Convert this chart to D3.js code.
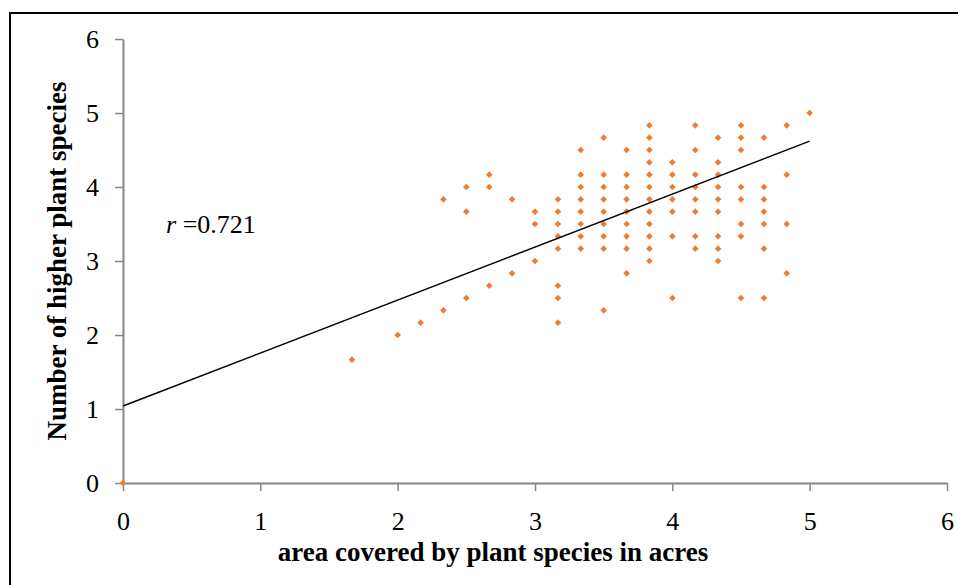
<!DOCTYPE html>
<html>
<head>
<meta charset="utf-8">
<script src="https://cdn.jsdelivr.net/npm/d3@7"></script>
<style>
  body { margin: 0; background: #fff; }
  svg text { font-family: "Liberation Serif", "Times New Roman", serif; fill: #000; }
</style>
</head>
<body>
<svg id="svg" width="958" height="585"></svg>
<script>
// area covered (acres) and number of higher plant species, one entry per point
const areaAcres = [
  0,
  1.667, 2.0, 2.167,
  2.333, 2.333,
  2.5, 2.5, 2.5,
  2.667, 2.667, 2.667,
  2.833, 2.833,
  3.0, 3.0, 3.0,
  3.167, 3.167, 3.167, 3.167, 3.167, 3.167, 3.167, 3.167,
  3.333, 3.333, 3.333, 3.333, 3.333, 3.333, 3.333, 3.333,
  3.5, 3.5, 3.5, 3.5, 3.5, 3.5, 3.5, 3.5, 3.5,
  3.667, 3.667, 3.667, 3.667, 3.667, 3.667, 3.667, 3.667, 3.667,
  3.833, 3.833, 3.833, 3.833, 3.833, 3.833, 3.833, 3.833, 3.833, 3.833, 3.833, 3.833,
  4.0, 4.0, 4.0, 4.0, 4.0, 4.0, 4.0,
  4.167, 4.167, 4.167, 4.167, 4.167, 4.167, 4.167, 4.167,
  4.333, 4.333, 4.333, 4.333, 4.333, 4.333, 4.333, 4.333, 4.333,
  4.5, 4.5, 4.5, 4.5, 4.5, 4.5, 4.5, 4.5,
  4.667, 4.667, 4.667, 4.667, 4.667, 4.667, 4.667,
  4.833, 4.833, 4.833, 4.833,
  5.0
];
const plantSpecies = [
  0,
  1.667, 2.0, 2.167,
  2.333, 3.833,
  2.5, 3.667, 4.0,
  2.667, 4.0, 4.167,
  2.833, 3.833,
  3.0, 3.5, 3.667,
  2.167, 2.5, 2.667, 3.167, 3.333, 3.5, 3.667, 3.833,
  3.167, 3.333, 3.5, 3.667, 3.833, 4.0, 4.167, 4.5,
  2.333, 3.167, 3.333, 3.5, 3.667, 3.833, 4.0, 4.167, 4.667,
  2.833, 3.167, 3.333, 3.5, 3.667, 3.833, 4.0, 4.167, 4.5,
  3.0, 3.167, 3.333, 3.5, 3.667, 3.833, 4.0, 4.167, 4.333, 4.5, 4.667, 4.833,
  2.5, 3.333, 3.667, 3.833, 4.0, 4.167, 4.333,
  3.167, 3.333, 3.667, 3.833, 4.0, 4.167, 4.5, 4.833,
  3.0, 3.167, 3.333, 3.667, 3.833, 4.0, 4.167, 4.333, 4.667,
  2.5, 3.333, 3.5, 3.833, 4.0, 4.5, 4.667, 4.833,
  2.5, 3.167, 3.5, 3.667, 3.833, 4.0, 4.667,
  2.833, 3.5, 4.167, 4.833,
  5.0
];
// linear trend line (start and end of the drawn segment)
const trendX = [0, 5];
const trendY = [1.04, 4.62];
const axisTicks = [0, 1, 2, 3, 4, 5, 6];
const corrLabel = "0.721";

const svg = d3.select("#svg");

//outer frame
svg.append("rect")
  .attr("x", 10).attr("y", 13)
  .attr("width", 960).attr("height", 600)
  .attr("fill", "none")
  .attr("stroke", "#000")
  .attr("stroke-width", 2);

const x = d3.scaleLinear().domain([0, 6]).range([123, 947]);
const y = d3.scaleLinear().domain([0, 6]).range([483, 39]);

//axes
const xAxis = svg.append("g")
  .attr("transform", `translate(0,${y(0)})`)
  .call(d3.axisBottom(x).tickValues(axisTicks).tickFormat(d3.format("d"))
    .tickSize(8).tickPadding(21).tickSizeOuter(0));
const yAxis = svg.append("g")
  .attr("transform", `translate(${x(0)},0)`)
  .call(d3.axisLeft(y).tickValues(axisTicks).tickFormat(d3.format("d"))
    .tickSize(8).tickPadding(14).tickSizeOuter(0));

[xAxis, yAxis].forEach((ax) => {
  ax.attr("font-family", null).attr("font-size", null);
  ax.select(".domain").attr("stroke", "#868686").attr("stroke-width", 2);
  ax.selectAll(".tick line").attr("stroke", "#868686").attr("stroke-width", 1.5);
  ax.selectAll(".tick text").style("font-size", "26px");
});
yAxis.selectAll(".tick text").attr("x", -24);

//points
const diamond = (cx, cy, r) =>
  `M ${cx} ${cy - r} L ${cx + r} ${cy} L ${cx} ${cy + r} L ${cx - r} ${cy} Z`;

svg.append("g")
  .selectAll("path")
  .data(areaAcres.map((a, i) => [a, plantSpecies[i]]))
  .join("path")
  .attr("d", (d) => diamond(x(d[0]), y(d[1]), 3.3))
  .attr("fill", "#ED7D31");

//trend line
svg.append("line")
  .attr("x1", x(trendX[0])).attr("y1", y(trendY[0]))
  .attr("x2", x(trendX[1])).attr("y2", y(trendY[1]))
  .attr("stroke", "#000")
  .attr("stroke-width", 1.5);

//r label
const rText = svg.append("text")
  .attr("x", 166).attr("y", 233)
  .style("font-size", "26px");
rText.append("tspan").attr("font-style", "italic").text("r");
rText.append("tspan").text(" =" + corrLabel);

//axis titles
svg.append("text")
  .attr("x", 493).attr("y", 561)
  .attr("text-anchor", "middle")
  .style("font-size", "27px")
  .attr("font-weight", "bold")
  .text("area covered by plant species in acres");

svg.append("text")
  .attr("transform", "translate(66,261) rotate(-90)")
  .attr("text-anchor", "middle")
  .style("font-size", "27px")
  .attr("font-weight", "bold")
  .text("Number of higher plant species");
</script>
</body>
</html>
